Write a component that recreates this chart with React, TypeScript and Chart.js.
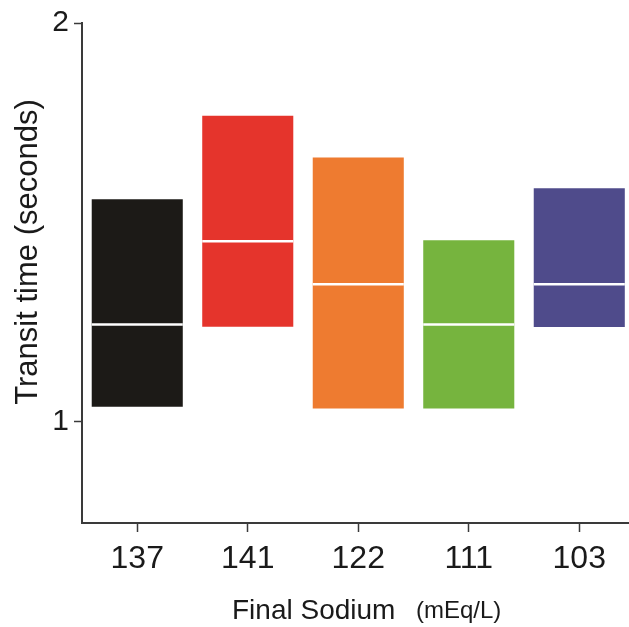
import React, { useEffect, useRef } from "react";
import { Chart, registerables } from "chart.js";

Chart.register(...registerables);

const categories = ["137", "141", "122", "111", "103"];
const lowValues = [1.037, 1.2375, 1.0325, 1.0325, 1.237];
const highValues = [1.5575, 1.7675, 1.6625, 1.455, 1.585];
const medianValues = [1.243, 1.452, 1.344, 1.243, 1.344];
const barColors = ["#1c1a17", "#e5342c", "#ee7b30", "#76b43e", "#4f4b8b"];
const yTickValues = [1, 2];

const FONT = "'Liberation Sans', Arial, sans-serif";
const TEXT = "#1a1a1a";

const medianPlugin = {
  id: "medianLines",
  afterDatasetsDraw(chart: any) {
    const meta = chart.getDatasetMeta(0);
    const y = chart.scales.y;
    const ctx = chart.ctx;
    ctx.save();
    ctx.strokeStyle = "#ffffff";
    ctx.lineWidth = 2.5;
    meta.data.forEach((bar: any, i: number) => {
      const py = y.getPixelForValue(medianValues[i]);
      ctx.beginPath();
      ctx.moveTo(bar.x - bar.width / 2, py);
      ctx.lineTo(bar.x + bar.width / 2, py);
      ctx.stroke();
    });
    ctx.restore();
  },
};

const titlesPlugin = {
  id: "customTitles",
  afterDraw(chart: any) {
    const ctx = chart.ctx;
    ctx.save();
    ctx.fillStyle = TEXT;
    ctx.textBaseline = "alphabetic";
    // x title
    ctx.textAlign = "left";
    ctx.font = `28px ${FONT}`;
    ctx.fillText("Final Sodium", 232, 619);
    ctx.font = `24px ${FONT}`;
    ctx.fillText("(mEq/L)", 416, 618);
    // y title
    ctx.translate(37, 252);
    ctx.rotate(-Math.PI / 2);
    ctx.textAlign = "center";
    ctx.font = `31px ${FONT}`;
    ctx.fillText("Transit time (seconds)", 0, 0);
    ctx.restore();
  },
};

export default function App() {
  const ref = useRef<HTMLCanvasElement | null>(null);

  useEffect(() => {
    if (!ref.current) return;
    const chart = new Chart(ref.current, {
      type: "bar",
      data: {
        datasets: [
          {
            data: categories.map((_, i) => ({ x: i, y: [lowValues[i], highValues[i]] })) as any,
            backgroundColor: barColors,
            borderWidth: 0,
            barPercentage: 0.824,
            categoryPercentage: 1,
          },
        ],
      },
      options: {
        animation: false,
        responsive: true,
        maintainAspectRatio: false,
        layout: { padding: { top: 23, left: 0, right: 0, bottom: 0 } },
        plugins: {
          legend: { display: false },
          tooltip: { enabled: false },
          title: { display: false },
        },
        scales: {
          x: {
            type: "linear",
            min: -0.5,
            max: 4.45,
            offset: false,
            afterBuildTicks: (scale: any) => {
              scale.ticks = categories.map((_, i) => ({ value: i }));
            },
            afterFit: (scale: any) => {
              scale.height = 104;
            },
            ticks: {
              callback: (v: any) => categories[v as number] ?? "",
              font: { family: FONT, size: 32 },
              color: TEXT,
              padding: 8,
              maxRotation: 0,
              autoSkip: false,
            },
            grid: {
              offset: false,
              drawOnChartArea: false,
              drawTicks: true,
              tickLength: 9,
              tickColor: "#3a3a3a",
              tickWidth: 1.5,
            },
            border: { display: true, color: "#3a3a3a", width: 2 },
          },
          y: {
            type: "linear",
            min: 0.745,
            max: 2,
            afterBuildTicks: (scale: any) => {
              scale.ticks = yTickValues.map((v) => ({ value: v }));
            },
            afterFit: (scale: any) => {
              scale.width = 82;
            },
            ticks: {
              font: { family: FONT, size: 30 },
              color: TEXT,
              padding: 5,
            },
            grid: {
              drawOnChartArea: false,
              drawTicks: true,
              tickLength: 8,
              tickColor: "#3a3a3a",
              tickWidth: 1.5,
            },
            border: { display: true, color: "#3a3a3a", width: 2 },
          },
        },
      },
      plugins: [medianPlugin, titlesPlugin],
    });
    return () => chart.destroy();
  }, []);

  return (
    <div style={{ position: "absolute", left: 0, top: 0, width: 629, height: 627, background: "#ffffff" }}>
      <canvas ref={ref} />
    </div>
  );
}
